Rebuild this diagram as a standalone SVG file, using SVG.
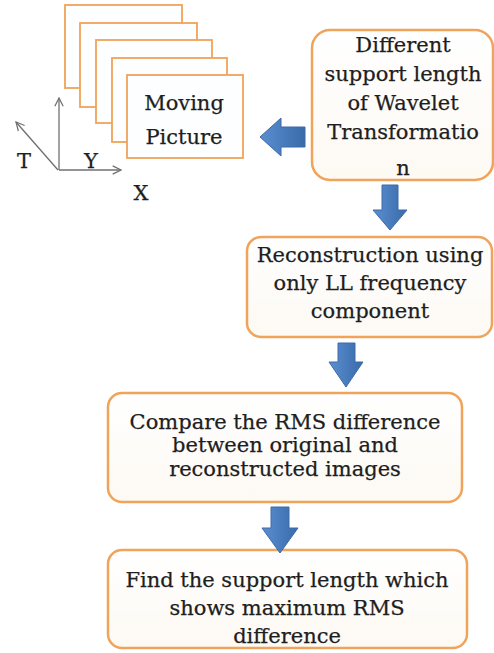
<svg xmlns="http://www.w3.org/2000/svg" width="494" height="653" viewBox="0 0 494 653">
  <defs>
    <linearGradient id="boxFill" x1="0" y1="0" x2="0" y2="1">
      <stop offset="0" stop-color="#ffffff"/>
      <stop offset="1" stop-color="#fdf9f3"/>
    </linearGradient>
    <linearGradient id="arrowFill" x1="0" y1="0" x2="1" y2="0">
      <stop offset="0" stop-color="#5a8fcf"/>
      <stop offset="1" stop-color="#3a6aaa"/>
    </linearGradient>
    <marker id="axisHead" viewBox="0 0 10 10" refX="9" refY="5" markerWidth="8" markerHeight="8" orient="auto">
      <path d="M1,1 L9,5 L1,9" fill="none" stroke="#707070" stroke-width="1.2"/>
    </marker>
  </defs>
  <style>
    .frame { fill: #fdfeff; stroke: #f0a35a; stroke-width: 1.8; }
    .box { fill: url(#boxFill); stroke: #f0a35a; stroke-width: 2.5; }
    .arrow { fill: url(#arrowFill); stroke: #3c6bab; stroke-width: 1; }
    .axis { stroke: #707070; stroke-width: 1.3; fill: none; }
    text { font-family: "DejaVu Serif", "Liberation Serif", serif; fill: #1e1e1e; stroke: #1e1e1e; stroke-width: 0.25; text-anchor: middle; }
    .lbl { font-size: 21px; }
    .ax { font-size: 21px; }
  </style>

  <rect width="494" height="653" fill="#ffffff"/>

  <!-- stacked frames of the moving picture -->
  <g id="moving-picture">
    <rect class="frame" x="65" y="5" width="117" height="83"/>
    <rect class="frame" x="80" y="23" width="117" height="84"/>
    <rect class="frame" x="96" y="40" width="116" height="83"/>
    <rect class="frame" x="112" y="58" width="115" height="84"/>
    <rect class="frame" x="127" y="75" width="116" height="83"/>
    <text class="lbl" x="184" y="110">Moving</text>
    <text class="lbl" x="184" y="144">Picture</text>
  </g>

  <!-- T / Y / X axes -->
  <g id="axes">
    <line class="axis" x1="59" y1="170" x2="59" y2="98" marker-end="url(#axisHead)"/>
    <line class="axis" x1="59" y1="170" x2="121" y2="170" marker-end="url(#axisHead)"/>
    <line class="axis" x1="58" y1="170" x2="16" y2="122" marker-end="url(#axisHead)"/>
    <text class="ax" x="24" y="168">T</text>
    <text class="ax" x="91" y="168">Y</text>
    <text class="ax" x="141" y="200">X</text>
  </g>

  <g id="wavelet">
    <rect class="box" x="312" y="30" width="181" height="150" rx="18"/>
    <text class="lbl" x="403" y="52">Different</text>
    <text class="lbl" x="403" y="81">support length</text>
    <text class="lbl" x="403" y="110">of Wavelet</text>
    <text class="lbl" x="403" y="139">Transformatio</text>
    <text class="lbl" x="403" y="175">n</text>
  </g>

  <g id="reconstruction">
    <rect class="box" x="247" y="237" width="245" height="100" rx="14"/>
    <text class="lbl" x="370" y="262">Reconstruction using</text>
    <text class="lbl" x="370" y="290">only LL frequency</text>
    <text class="lbl" x="370" y="318">component</text>
  </g>

  <g id="compare">
    <rect class="box" x="108" y="393" width="354" height="109" rx="14"/>
    <text class="lbl" x="285" y="429">Compare the RMS difference</text>
    <text class="lbl" x="285" y="452">between original and</text>
    <text class="lbl" x="285" y="476">reconstructed images</text>
  </g>

  <g id="find">
    <rect class="box" x="108" y="550" width="359" height="98" rx="14"/>
    <text class="lbl" x="287" y="587">Find the support length which</text>
    <text class="lbl" x="287" y="615">shows maximum RMS</text>
    <text class="lbl" x="287" y="643">difference</text>
  </g>

  <!-- block arrows between the steps -->
  <g id="connectors">
    <path class="arrow" d="M305,127 L281,127 L281,118 L260,137 L281,156 L281,147 L305,147 Z"/>
    <path class="arrow" d="M382,185 L398,185 L398,210 L407,210 L390,230 L373,210 L382,210 Z"/>
    <path class="arrow" d="M338,343 L355,343 L355,362 L363,362 L346,387 L329,362 L338,362 Z"/>
    <path class="arrow" d="M271,507 L289,507 L289,528 L298,528 L280,553 L262,528 L271,528 Z"/>
  </g>
</svg>
